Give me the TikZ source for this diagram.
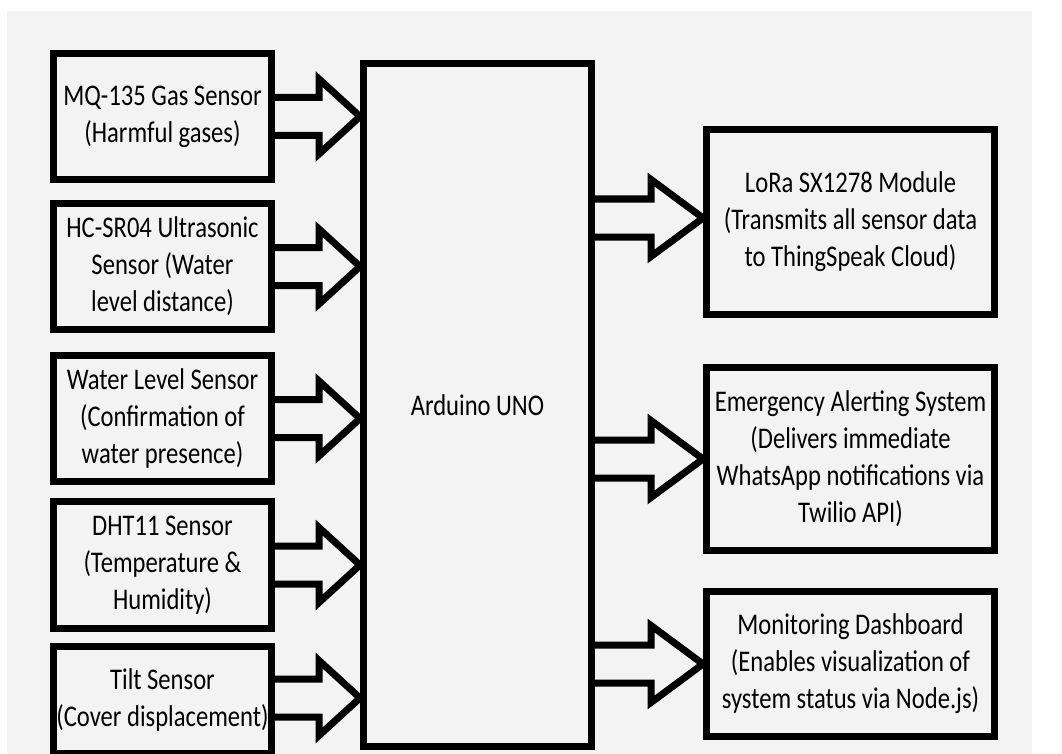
\documentclass[tikz,border=0pt]{standalone}
\usepackage{fontspec}
\setmainfont{Carlito}[FakeStretch=0.82]
\usetikzlibrary{calc}
\definecolor{bgc}{HTML}{F3F3F3}
\tikzset{
  blk/.style={draw=black, line width=7pt, align=center, inner sep=0pt,
    font=\fontsize{30}{37}\selectfont},
  lbox/.style={blk, minimum width=218pt, minimum height=126pt},
  rbox/.style={blk, minimum width=288pt},
  barr/.style={draw=black, line width=7pt, line join=miter}
}
% #1 start, #2 end, #3 shaft half width, #4 head half width, #5 head length
\newcommand\blockarrow[5]{%
  \draw[barr] let \p1=(#1), \p2=(#2) in
    (\x1,\y1+#3) -- (\x2-#5,\y1+#3) -- (\x2-#5,\y1+#4) -- (\x2,\y1)
    -- (\x2-#5,\y1-#4) -- (\x2-#5,\y1-#3) -- (\x1,\y1-#3);}
\begin{document}
\begin{tikzpicture}[x=1pt,y=-1pt]
\useasboundingbox (0,0) rectangle (1062,754);
\clip (0,0) rectangle (1062,754);
\fill[white] (0,0) rectangle (1062,754);
\fill[bgc] (7,11) rectangle (1032,754);

\node[lbox] (s1) at (162.5,116.5) {MQ-135 Gas Sensor\\(Harmful gases)};
\node[lbox] (s2) at (162.5,266.5) {HC-SR04 Ultrasonic\\Sensor (Water\\level distance)};
\node[lbox] (s3) at (162.5,418.5) {Water Level Sensor\\(Confirmation of\\water presence)};
\node[lbox, minimum height=127pt] (s4) at (162.5,565) {DHT11 Sensor\\(Temperature \&\\Humidity)};
\node[lbox, minimum height=107pt] (s5) at (162.5,700) {Tilt Sensor\\(Cover displacement)};

\node[blk, minimum width=228pt, minimum height=683pt] (ard) at (477.5,405) {Arduino UNO};

\node[rbox, minimum height=185pt] (r1) at (850.5,222) {LoRa SX1278 Module\\(Transmits all sensor data\\to ThingSpeak Cloud)};
\node[rbox, minimum height=183pt] (r2) at (850.5,459) {Emergency Alerting System\\(Delivers immediate\\WhatsApp notifications via\\Twilio API)};
\node[rbox, minimum height=145pt] (r3) at (850.5,664) {Monitoring Dashboard\\(Enables visualization of\\system status via Node.js)};

\foreach \s in {s1,s2,s3,s4} {
  \blockarrow{\s.east}{ard.west |- \s.east}{19pt}{37.5pt}{41pt}
}
\coordinate (s5a) at ($(s5.east)+(0,-2)$);
\blockarrow{s5a}{ard.west |- s5a}{19pt}{37.5pt}{41pt}

\coordinate (r1a) at ($(r1.west)+(0,-4)$);
\blockarrow{ard.east |- r1a}{r1a}{19pt}{38.5pt}{52pt}
\blockarrow{ard.east |- r2.west}{r2.west}{19pt}{38.5pt}{52pt}
\blockarrow{ard.east |- r3.west}{r3.west}{19pt}{38.5pt}{52pt}
\end{tikzpicture}
\end{document}
